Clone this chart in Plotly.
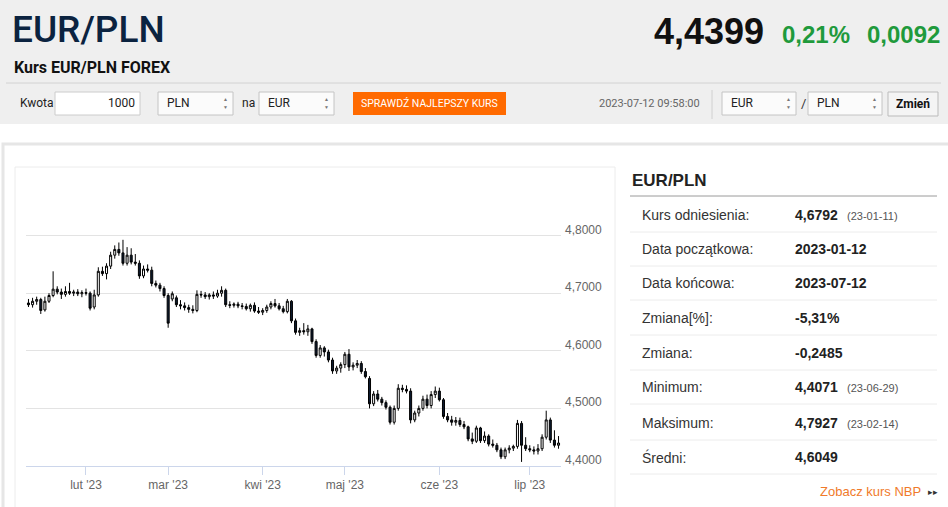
import pandas as pd
import plotly.graph_objects as go

W, H = 948, 507

# trading days shown on the chart (category axis, like an ordinal highstock axis)
dates = pd.bdate_range("2023-01-12", "2023-07-12").strftime("%Y-%m-%d").tolist()

opens = [
    4.683, 4.680, 4.686, 4.689, 4.671, 4.686, 4.696, 4.707, 4.702, 4.698,
    4.703, 4.700, 4.702, 4.699, 4.701, 4.700, 4.676, 4.697, 4.738, 4.734,
    4.747, 4.766, 4.776, 4.770, 4.752, 4.766, 4.754, 4.752, 4.730, 4.742,
    4.740, 4.717, 4.714, 4.708, 4.696, 4.690, 4.692, 4.680, 4.678, 4.675,
    4.672, 4.670, 4.698, 4.697, 4.694, 4.697, 4.695, 4.700, 4.705, 4.680,
    4.679, 4.681, 4.678, 4.677, 4.673, 4.679, 4.669, 4.667, 4.670, 4.676,
    4.682, 4.678, 4.673, 4.668, 4.686, 4.652, 4.632, 4.635, 4.633, 4.638,
    4.616, 4.592, 4.605, 4.598, 4.584, 4.565, 4.570, 4.576, 4.594, 4.572,
    4.575, 4.578, 4.564, 4.552, 4.508, 4.525, 4.516, 4.510, 4.502, 4.476,
    4.500, 4.535, 4.533, 4.530, 4.480, 4.492, 4.500, 4.516, 4.505, 4.524,
    4.530, 4.515, 4.486, 4.480, 4.476, 4.479, 4.472, 4.468, 4.447, 4.443,
    4.466, 4.444, 4.452, 4.438, 4.436, 4.428, 4.416, 4.428, 4.431, 4.434,
    4.474, 4.436, 4.430, 4.428, 4.426, 4.430, 4.450, 4.480, 4.445, 4.436,
]
highs = [
    4.690, 4.692, 4.694, 4.692, 4.694, 4.700, 4.738, 4.712, 4.708, 4.712,
    4.718, 4.706, 4.707, 4.705, 4.708, 4.703, 4.706, 4.745, 4.746, 4.752,
    4.772, 4.783, 4.788, 4.7927, 4.780, 4.778, 4.768, 4.757, 4.748, 4.750,
    4.746, 4.722, 4.718, 4.712, 4.700, 4.703, 4.696, 4.688, 4.684, 4.680,
    4.679, 4.705, 4.704, 4.702, 4.700, 4.703, 4.706, 4.712, 4.708, 4.686,
    4.684, 4.685, 4.683, 4.682, 4.682, 4.684, 4.676, 4.674, 4.680, 4.686,
    4.690, 4.683, 4.678, 4.690, 4.688, 4.656, 4.640, 4.648, 4.645, 4.640,
    4.620, 4.610, 4.608, 4.602, 4.588, 4.574, 4.580, 4.598, 4.603, 4.580,
    4.584, 4.582, 4.570, 4.556, 4.530, 4.532, 4.520, 4.514, 4.505, 4.505,
    4.542, 4.541, 4.540, 4.535, 4.496, 4.505, 4.522, 4.524, 4.530, 4.538,
    4.536, 4.518, 4.492, 4.487, 4.485, 4.484, 4.478, 4.470, 4.458, 4.470,
    4.468, 4.460, 4.455, 4.446, 4.440, 4.432, 4.432, 4.436, 4.437, 4.480,
    4.478, 4.450, 4.436, 4.434, 4.438, 4.455, 4.496, 4.484, 4.462, 4.452,
]
lows = [
    4.676, 4.675, 4.680, 4.664, 4.668, 4.683, 4.693, 4.698, 4.690, 4.694,
    4.697, 4.695, 4.695, 4.693, 4.696, 4.670, 4.672, 4.694, 4.730, 4.724,
    4.742, 4.760, 4.765, 4.748, 4.748, 4.750, 4.748, 4.725, 4.726, 4.736,
    4.712, 4.710, 4.703, 4.692, 4.640, 4.686, 4.676, 4.672, 4.670, 4.666,
    4.665, 4.667, 4.692, 4.690, 4.689, 4.690, 4.692, 4.694, 4.676, 4.674,
    4.675, 4.674, 4.672, 4.670, 4.668, 4.666, 4.664, 4.662, 4.666, 4.672,
    4.675, 4.670, 4.665, 4.665, 4.648, 4.628, 4.626, 4.628, 4.626, 4.612,
    4.588, 4.588, 4.590, 4.580, 4.560, 4.560, 4.562, 4.570, 4.565, 4.566,
    4.570, 4.560, 4.552, 4.500, 4.504, 4.512, 4.505, 4.498, 4.472, 4.472,
    4.496, 4.528, 4.526, 4.474, 4.476, 4.486, 4.496, 4.500, 4.500, 4.518,
    4.512, 4.482, 4.476, 4.470, 4.470, 4.468, 4.464, 4.443, 4.438, 4.440,
    4.440, 4.440, 4.434, 4.432, 4.424, 4.412, 4.412, 4.422, 4.426, 4.430,
    4.4071, 4.426, 4.424, 4.420, 4.420, 4.426, 4.446, 4.440, 4.432, 4.430,
]
closes = [
    4.680, 4.686, 4.689, 4.670, 4.686, 4.696, 4.707, 4.702, 4.698, 4.703,
    4.700, 4.702, 4.699, 4.701, 4.700, 4.674, 4.697, 4.738, 4.734, 4.747,
    4.766, 4.776, 4.770, 4.752, 4.766, 4.754, 4.752, 4.730, 4.742, 4.740,
    4.717, 4.714, 4.708, 4.696, 4.648, 4.699, 4.680, 4.678, 4.675, 4.672,
    4.670, 4.698, 4.697, 4.694, 4.697, 4.695, 4.700, 4.705, 4.680, 4.679,
    4.681, 4.678, 4.677, 4.673, 4.679, 4.669, 4.667, 4.670, 4.676, 4.682,
    4.678, 4.673, 4.668, 4.686, 4.652, 4.632, 4.635, 4.633, 4.638, 4.616,
    4.592, 4.605, 4.598, 4.584, 4.565, 4.570, 4.576, 4.594, 4.572, 4.575,
    4.578, 4.564, 4.555, 4.508, 4.525, 4.516, 4.510, 4.502, 4.476, 4.500,
    4.535, 4.533, 4.530, 4.480, 4.492, 4.500, 4.516, 4.505, 4.524, 4.530,
    4.515, 4.486, 4.480, 4.476, 4.479, 4.472, 4.468, 4.447, 4.443, 4.466,
    4.444, 4.452, 4.438, 4.436, 4.428, 4.416, 4.428, 4.431, 4.434, 4.474,
    4.436, 4.430, 4.428, 4.426, 4.430, 4.450, 4.480, 4.445, 4.436, 4.4399,
]

month_ticks = ["2023-02-01", "2023-03-01", "2023-04-03", "2023-05-01", "2023-06-01", "2023-07-03"]
month_labels = ["lut '23", "mar '23", "kwi '23", "maj '23", "cze '23", "lip '23"]
price_ticks = [4.4, 4.5, 4.6, 4.7, 4.8]
price_labels = ["4,4000", "4,5000", "4,6000", "4,7000", "4,8000"]

stat_labels = ["Kurs odniesienia:", "Data początkowa:", "Data końcowa:", "Zmiana[%]:",
               "Zmiana:", "Minimum:", "Maksimum:", "Średni:"]
stat_values = ["4,6792", "2023-01-12", "2023-07-12", "-5,31%", "-0,2485", "4,4071", "4,7927", "4,6049"]
stat_dates = ["(23-01-11)", "", "", "", "", "(23-06-29)", "(23-02-14)", ""]

NARROW = "Roboto, Liberation Sans, sans-serif"
SANS = "Liberation Sans, Arial, sans-serif"


def px(x):
    return x / W


def py(y):
    return 1 - y / H


shapes = []
annotations = []


def box(x0, y0, x1, y1, fill="rgba(0,0,0,0)", line="rgba(0,0,0,0)", lw=1):
    shapes.append(dict(type="rect", xref="paper", yref="paper", layer="below",
                       x0=px(x0), x1=px(x1), y0=py(y1), y1=py(y0),
                       fillcolor=fill, line=dict(color=line, width=lw)))


def hline(x0, x1, y, color, lw=1):
    shapes.append(dict(type="line", xref="paper", yref="paper", layer="below",
                       x0=px(x0), x1=px(x1), y0=py(y), y1=py(y),
                       line=dict(color=color, width=lw)))


def text(x, y, s, size, color="#333333", font=SANS, anchor="left", bold=False, weight=None):
    if bold:
        s = f"<b>{s}</b>"
    f = dict(family=font, size=size, color=color)
    if weight:
        f["weight"] = weight
    annotations.append(dict(xref="paper", yref="paper", x=px(x), y=py(y), text=s,
                            showarrow=False, xanchor=anchor, yanchor="middle", font=f))


def select(x0, x1, label):
    box(x0, 92, x1, 115, fill="#fbfbfb", line="#c4c4c4")
    text(x0 + 7, 103, label, 12, "#222222", NARROW)
    text(x1 - 8, 99, "▲", 5, "#777777", SANS, "center")
    text(x1 - 8, 107, "▼", 5, "#777777", SANS, "center")


# --- page header ---
box(0, 0, W, 124, fill="#efefef")
text(10, 30, "EUR/PLN", 37, "#0b2340", NARROW, weight=500)
text(12, 67, "Kurs EUR/PLN FOREX", 16, "#111111", NARROW, bold=True)
text(766, 32, "4,4399", 36, "#111111", SANS, "right", bold=True)
text(852, 34, "0,21%", 24, "#1f9a3c", SANS, "right", bold=True)
text(942, 34, "0,0092", 24, "#1f9a3c", SANS, "right", bold=True)
hline(6, 941, 83, "#d2d2d2")

text(18, 103, "Kwota", 12, "#222222", NARROW)
box(55, 92, 140, 115, fill="#ffffff", line="#cccccc")
text(137, 103, "1000", 12, "#222222", NARROW, "right")
select(158, 233, "PLN")
text(240, 103, "na", 12, "#222222", NARROW)
select(259, 334, "EUR")
box(353, 92, 506, 115, fill="#ff6a00")
text(429, 103, "SPRAWDŹ NAJLEPSZY KURS", 10.5, "#ffffff", NARROW, "center")
text(702, 104, "2023-07-12 09:58:00", 11, "#666666", NARROW, "right")
shapes.append(dict(type="line", xref="paper", yref="paper", x0=px(712), x1=px(712),
                   y0=py(119), y1=py(90), line=dict(color="#d0d0d0", width=1)))
select(722, 796, "EUR")
text(803, 104, "/", 13, "#333333", NARROW, "center")
select(808, 882, "PLN")
box(888, 92, 938, 116, fill="#f4f4f4", line="#bbbbbb")
text(913, 104, "Zmień", 12, "#111111", NARROW, "center", bold=True)

# --- content panels ---
box(3, 144, W + 10, H + 10, line="#e6e6e6", lw=3)
box(15, 167, 615, H + 10, line="#ececec", lw=1)

text(630, 180, "EUR/PLN", 17, "#222222", SANS, bold=True)
hline(630, 937, 196, "#9a9a9a")
row_y = [215, 249, 283, 318, 353, 387, 423, 457]
for yy, lab, val, dt in zip(row_y, stat_labels, stat_values, stat_dates):
    text(640, yy, lab, 14, "#333333", SANS)
    text(793, yy, val, 14, "#222222", SANS, bold=True)
    if dt:
        text(845, yy + 1, dt, 11, "#555555", SANS)
    hline(630, 937, yy + 17, "#ececec")
text(923, 491, "Zobacz kurs NBP", 13, "#f07a2a", SANS, "right")
text(926, 492, "▸▸", 9, "#333333", SANS)

# y labels sit a little above their grid lines, as in the original chart
for v, lab in zip(price_ticks, price_labels):
    annotations.append(dict(xref="paper", yref="y", x=px(563), y=v, text=lab,
                            showarrow=False, xanchor="left", yanchor="middle", yshift=6,
                            font=dict(family=SANS, size=12, color="#666666")))

fig = go.Figure()
fig.add_trace(go.Candlestick(
    x=dates, open=opens, high=highs, low=lows, close=closes,
    increasing=dict(line=dict(color="#000000", width=1), fillcolor="#ffffff"),
    decreasing=dict(line=dict(color="#000000", width=1), fillcolor="#0c1a2e"),
    whiskerwidth=0,
    hoverinfo="x+y",
))

fig.update_layout(
    width=W, height=H,
    margin=dict(l=0, r=0, t=0, b=0),
    paper_bgcolor="#ffffff",
    plot_bgcolor="rgba(0,0,0,0)",
    showlegend=False,
    shapes=shapes,
    annotations=annotations,
    xaxis=dict(
        type="category",
        domain=[px(26), px(561)],
        range=[-0.6, len(dates) - 0.4],
        rangeslider=dict(visible=False),
        tickmode="array", tickvals=month_ticks, ticktext=month_labels,
        ticks="outside", ticklen=8, tickcolor="#ccd6eb",
        showline=True, linecolor="#ccd6eb", linewidth=1,
        showgrid=False, zeroline=False,
        tickfont=dict(family=SANS, size=12, color="#666666"),
    ),
    yaxis=dict(
        domain=[py(466), py(178)],
        range=[4.4, 4.9],
        tickmode="array", tickvals=price_ticks + [4.9],
        showticklabels=False,
        showgrid=True, gridcolor="#e3e3e3", gridwidth=1,
        zeroline=False,
    ),
)

# the page itself has no margin, the figure fills the window
fig.write_html("out.html", config={"displayModeBar": False},
               post_script="document.body.style.margin='0';")
